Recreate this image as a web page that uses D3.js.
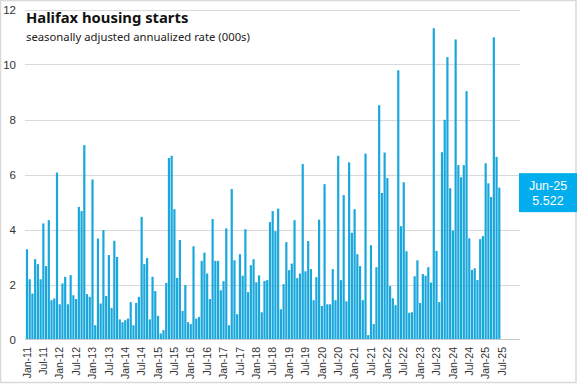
<!DOCTYPE html>
<html>
<head>
<meta charset="utf-8">
<script src="https://cdn.jsdelivr.net/npm/d3@7"></script>
<style>
  html, body { margin: 0; padding: 0; background: #fff; }
  svg { display: block; }
</style>
</head>
<body>
<svg id="chart" width="577" height="385"></svg>
<script>
// ---- data ----
const title = "Halifax housing starts";
const subtitle = "seasonally adjusted annualized rate (000s)";
const startMonth = new Date(2011, 0, 1);   // Jan-11
const endMonth = new Date(2025, 6, 1);     // Jul-25 (axis end, no data)
const starts = [
  3.28, 2.19, 1.67, 2.92, 2.74, 2.19, 4.22, 2.67, 4.34, 1.43, 1.49, 6.07,
  1.28, 2.04, 2.28, 1.28, 2.34, 1.61, 1.47, 4.82, 4.67, 7.07, 1.65, 1.55,
  5.82, 0.52, 3.67, 1.31, 3.98, 1.58, 3.07, 1.15, 3.59, 3.00, 0.73, 0.63,
  0.70, 0.76, 1.36, 0.52, 1.33, 1.55, 4.46, 2.74, 2.96, 0.73, 2.28, 1.76,
  0.86, 0.22, 0.34, 2.06, 6.60, 6.68, 4.74, 2.24, 3.62, 1.04, 1.98, 0.63,
  0.56, 3.39, 0.76, 0.82, 2.86, 3.16, 2.40, 1.47, 4.38, 2.86, 2.86, 1.79,
  2.12, 4.04, 0.52, 5.47, 2.88, 0.92, 3.10, 2.32, 4.01, 1.72, 2.70, 2.92,
  2.08, 2.33, 0.99, 2.13, 2.16, 4.27, 4.67, 3.94, 4.76, 1.10, 2.01, 3.54,
  2.52, 2.76, 4.34, 2.23, 2.40, 6.38, 2.48, 3.58, 2.56, 1.43, 2.27, 4.36,
  1.22, 5.65, 1.28, 1.28, 2.56, 1.43, 6.68, 2.16, 5.25, 1.39, 6.44, 3.88,
  4.74, 3.10, 2.67, 1.43, 6.76, 0.16, 3.43, 0.56, 2.63, 8.52, 5.33, 6.80,
  5.87, 1.94, 1.50, 1.25, 9.79, 4.12, 5.72, 3.21, 0.97, 0.99, 2.30, 2.88,
  1.33, 2.38, 2.32, 2.63, 2.07, 11.32, 3.22, 1.36, 6.81, 7.99, 10.27, 5.50,
  3.96, 10.91, 6.34, 5.90, 6.34, 9.03, 3.68, 2.53, 2.59, 2.16, 3.65, 3.76,
  6.41, 5.68, 5.18, 10.99, 6.64, 5.522
];
const xTickLabels = [
  "Jan-11","Jul-11","Jan-12","Jul-12","Jan-13","Jul-13","Jan-14","Jul-14",
  "Jan-15","Jul-15","Jan-16","Jul-16","Jan-17","Jul-17","Jan-18","Jul-18",
  "Jan-19","Jul-19","Jan-20","Jul-20","Jan-21","Jul-21","Jan-22","Jul-22",
  "Jan-23","Jul-23","Jan-24","Jul-24","Jan-25","Jul-25"
];
const yTicks = [0, 2, 4, 6, 8, 10, 12];
const calloutLabel = "Jun-25";
const calloutValue = "5.522";

// ---- chart ----
const fmt = d3.timeFormat("%b-%y");
const months = d3.timeMonth.range(startMonth, d3.timeMonth.offset(endMonth, 1)).map(fmt);
const data = starts.map((v, i) => ({ m: months[i], v }));

const svg = d3.select("#chart");
const W = 577, H = 385;

svg.append("rect")
  .attr("x", 0.5).attr("y", 0.5).attr("width", W - 1.5).attr("height", H - 3)
  .attr("fill", "#fff").attr("stroke", "#d9d9d9").attr("stroke-width", 1.5);

const x = d3.scaleBand().domain(months).range([25.6, 503.4]).paddingInner(0.2).paddingOuter(0.1);
const y = d3.scaleLinear().domain([0, 12]).range([339.5, 9.5]);

const gridL = 25, gridR = 520;

// gridlines
svg.append("g").selectAll("line").data(yTicks.filter(d => d > 0)).join("line")
  .attr("x1", gridL).attr("x2", gridR)
  .attr("y1", d => Math.round(y(d)) + 0.5).attr("y2", d => Math.round(y(d)) + 0.5)
  .attr("stroke", "#d9d9d9").attr("stroke-width", 1);

// y labels
const yAxis = svg.append("g").attr("transform", "translate(16,0)")
  .call(d3.axisLeft(y).tickValues(yTicks).tickSize(0).tickPadding(0).tickFormat(d3.format("d")));
yAxis.select(".domain").remove();
yAxis.selectAll("text")
  .attr("font-family", "Liberation Sans, Arial, sans-serif")
  .attr("font-size", 11.5).attr("fill", "#333");

// bars
svg.append("g").selectAll("rect").data(data).join("rect")
  .attr("x", d => x(d.m))
  .attr("width", x.bandwidth())
  .attr("y", d => y(d.v))
  .attr("height", d => y(0) - y(d.v))
  .attr("fill", "#19a7dc");

// baseline
svg.append("line")
  .attr("x1", gridL).attr("x2", gridR)
  .attr("y1", 339.5).attr("y2", 339.5)
  .attr("stroke", "#c8c8c8").attr("stroke-width", 1);

// x axis
const xAxis = svg.append("g").attr("transform", "translate(0,340)")
  .call(d3.axisBottom(x).tickValues(xTickLabels).tickSize(0));
xAxis.select(".domain").remove();
xAxis.selectAll("text")
  .attr("font-family", "Liberation Sans, Arial, sans-serif")
  .attr("font-size", 10.5).attr("fill", "#333")
  .attr("transform", "rotate(-90)")
  .attr("text-anchor", "end")
  .attr("x", -7).attr("y", 0).attr("dy", "0.35em");

// title
svg.append("text").attr("x", 26).attr("y", 23)
  .attr("font-family", "Noto Sans, sans-serif").attr("font-weight", "bold")
  .attr("font-size", 14.8).attr("fill", "#111").text(title);
svg.append("text").attr("x", 26).attr("y", 41)
  .attr("font-family", "Noto Sans, sans-serif")
  .attr("font-size", 11.3).attr("fill", "#222").text(subtitle);

// callout
const last = data[data.length - 1];
const by = y(last.v) - 14.5;
const callout = svg.append("g");
callout.append("rect").attr("x", 519).attr("y", by).attr("width", 58).attr("height", 39)
  .attr("fill", "#03aeee");
callout.append("text").attr("x", 548).attr("y", by + 17)
  .attr("text-anchor", "middle").attr("fill", "#fff")
  .attr("font-family", "Liberation Sans, Arial, sans-serif").attr("font-size", 12.5)
  .text(calloutLabel);
callout.append("text").attr("x", 548).attr("y", by + 32)
  .attr("text-anchor", "middle").attr("fill", "#fff")
  .attr("font-family", "Liberation Sans, Arial, sans-serif").attr("font-size", 12.5)
  .text(calloutValue);
</script>
</body>
</html>
